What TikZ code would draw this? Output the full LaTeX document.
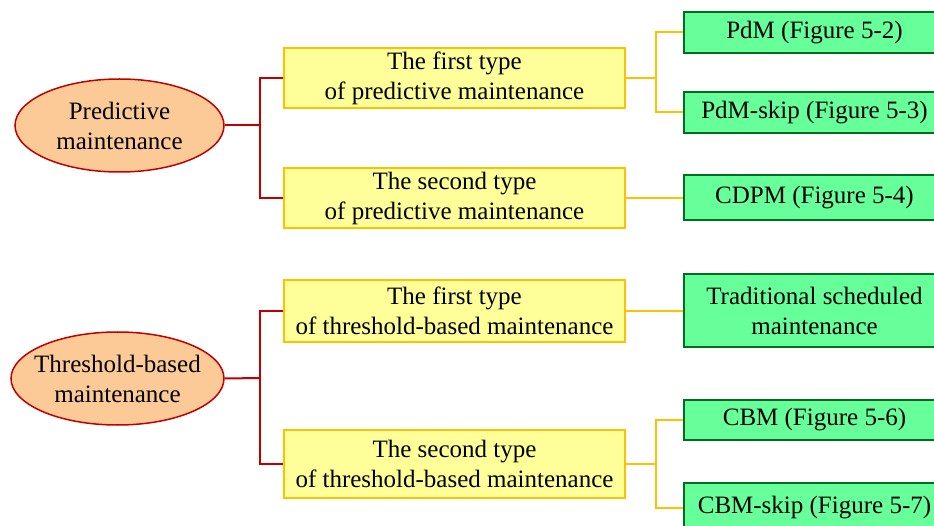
\documentclass[tikz,border=0pt]{standalone}
\usepackage{fontspec}
\setmainfont{Liberation Serif}
\usetikzlibrary{shapes.geometric}
\definecolor{ellfill}{RGB}{251,202,150}
\definecolor{redl}{RGB}{192,0,0}
\definecolor{yelfill}{RGB}{255,255,153}
\definecolor{yelline}{RGB}{255,192,0}
\definecolor{grnfill}{RGB}{102,255,153}
\definecolor{grnline}{RGB}{0,110,30}
\begin{document}
\begin{tikzpicture}[x=1pt,y=-1pt,
  txt/.style={font=\fontsize{25}{30}\selectfont, align=center, inner sep=0pt},
  ell/.style={ellipse, draw=redl, fill=ellfill, line width=1.5pt, inner sep=0pt},
  ybox/.style={txt, rectangle, draw=yelline, fill=yelfill, line width=2pt, minimum width=341pt},
  gbox/.style={txt, rectangle, draw=grnline, fill=grnfill, line width=2pt, minimum width=261pt},
  redc/.style={draw=redl, line width=2pt},
  yelc/.style={draw=yelline, line width=2pt}]
\useasboundingbox (0,0) rectangle (934,526);
\clip (0,0) rectangle (934,526);
% ellipses
\node[ell, minimum width=209pt, minimum height=93pt] (e1) at (119.5,125.5) {};
\node[txt] (e1t) at (e1.center) {Predictive\\maintenance};
\node[ell, minimum width=213pt, minimum height=93pt] (e2) at (117.5,378.5) {};
\node[txt] (e2t) at (e2.center) {Threshold-based\\maintenance};
% yellow boxes
\node[ybox, minimum height=60pt] (y1) at (454.5,78) {The first type\\of predictive maintenance};
\node[ybox, minimum height=60pt] (y2) at (454.5,198) {The second type\\of predictive maintenance};
\node[ybox, minimum height=62pt] (y3) at (454.5,311) {The first type\\of threshold-based maintenance};
\node[ybox, minimum height=68pt] (y4) at (454.5,463.5) {The second type\\of threshold-based maintenance};
% green boxes
\node[gbox, minimum height=41pt] (g1) at (814.5,32.5) {PdM (Figure 5-2)};
\node[gbox, minimum height=41pt] (g2) at (814.5,112.5) {PdM-skip (Figure 5-3)};
\node[gbox, minimum height=45pt] (g3) at (814.5,198) {CDPM (Figure 5-4)};
\node[gbox, minimum height=73pt] (g4) at (814.5,311) {Traditional scheduled\\maintenance};
\node[gbox, minimum height=40pt] (g5) at (814.5,420) {CBM (Figure 5-6)};
\node[gbox, minimum height=50pt] (g6) at (814.5,508) {CBM-skip (Figure 5-7)};
% red connectors
\coordinate (j1) at (260,125.5);
\coordinate (j2) at (260,378);
\draw[redc] (e1.east) -- (j1);
\draw[redc] (y1.west) -| (j1) |- (y2.west);
\draw[redc] (e2.east) -- (j2);
\draw[redc] (y3.west) -| (j2) |- (y4.west);
% yellow connectors
\coordinate (k1) at (656,78);
\coordinate (k4) at (656,463.5);
\draw[yelc] (y1.east) -- (k1);
\draw[yelc] (g1.west) -| (k1) |- (g2.west);
\draw[yelc] (y2.east) -- (g3.west);
\draw[yelc] (y3.east) -- (g4.west);
\draw[yelc] (y4.east) -- (k4);
\draw[yelc] (g5.west) -| (k4) |- (g6.west);
\end{tikzpicture}
\end{document}
